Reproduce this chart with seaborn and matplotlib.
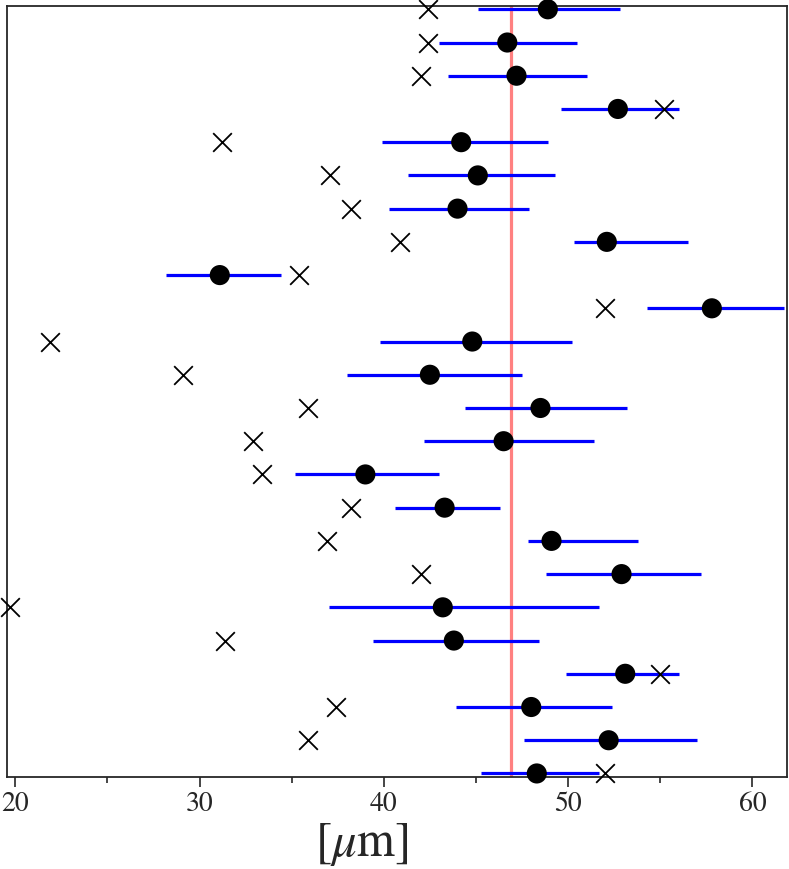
import numpy as np
import pandas as pd
import seaborn as sns
import matplotlib
matplotlib.use('Agg')
import matplotlib.pyplot as plt
from matplotlib.ticker import MultipleLocator

# values, rows listed top to bottom
means = [48.9, 46.7, 47.2, 52.7, 44.2, 45.1, 44.0, 52.1, 31.1, 57.8, 44.8, 42.5,
         48.5, 46.5, 39.0, 43.3, 49.1, 52.9, 43.2, 43.8, 53.1, 48.0, 52.2, 48.3]
lower = [45.1, 43.0, 43.5, 49.6, 39.9, 41.3, 40.3, 50.3, 28.2, 54.3, 39.8, 38.0,
         44.4, 42.2, 35.2, 40.6, 47.8, 48.8, 37.0, 39.4, 49.9, 43.9, 47.6, 45.3]
upper = [52.8, 50.5, 51.0, 56.0, 48.9, 49.3, 47.9, 56.5, 34.4, 61.7, 50.2, 47.5,
         53.2, 51.4, 43.0, 46.3, 53.8, 57.2, 51.7, 48.4, 56.0, 52.4, 57.0, 51.7]
crosses = [42.4, 42.4, 42.0, 55.2, 31.2, 37.1, 38.2, 40.9, 35.4, 52.0, 21.9, 29.1,
           35.9, 32.9, 33.4, 38.2, 36.9, 42.0, 19.7, 31.4, 55.0, 37.4, 35.9, 52.0]
ref_value = 46.9

rows = np.arange(len(means))
df = pd.DataFrame({'row': rows, 'mean': means, 'lo': lower, 'hi': upper, 'cross': crosses})

sns.set_style('ticks')
plt.rcParams['font.family'] = ['STIXGeneral', 'DejaVu Serif']
plt.rcParams['mathtext.fontset'] = 'stix'

fig = plt.figure(figsize=(7.89, 8.70), dpi=100)
ax = fig.add_axes([0.009, 0.106, 0.989, 0.886])

ax.axvline(ref_value, color='#ff8080', lw=2.3, zorder=1)
ax.hlines(df['row'], df['lo'], df['hi'], color='#0000ff', lw=2.3, zorder=2)
sns.scatterplot(data=df, x='cross', y='row', marker='x', color='black', s=180,
                linewidth=1.3, ax=ax, zorder=3, clip_on=False)
sns.scatterplot(data=df, x='mean', y='row', marker='o', color='black', s=210,
                edgecolor='none', ax=ax, zorder=4, clip_on=False)

ax.set_xlim(19.56, 61.9)
ax.set_ylim(len(means) - 1 + 0.1, -0.1)
ax.set_yticks([])
ax.set_ylabel('')
ax.xaxis.set_major_locator(MultipleLocator(10))
ax.xaxis.set_minor_locator(MultipleLocator(5))
ax.tick_params(axis='x', which='major', length=7, width=1.2, labelsize=20, pad=3)
ax.tick_params(axis='x', which='minor', length=4, width=1.2)
for sp in ax.spines.values():
    sp.set_linewidth(1.3)

ax.set_xlabel(r'$[\mu\mathrm{m}]$', fontsize=35)
ax.xaxis.set_label_coords(0.455, -0.056, transform=ax.transAxes)
ax.xaxis.label.set_va('top')

fig.savefig('out.png', dpi=100)
